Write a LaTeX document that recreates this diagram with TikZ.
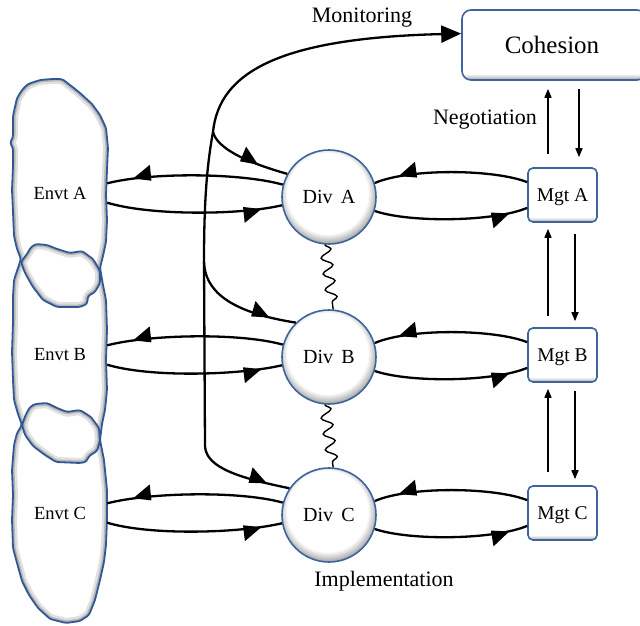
\documentclass[tikz,border=0pt]{standalone}
\usepackage{fontspec}
\setmainfont{Liberation Serif}
\usetikzlibrary{arrows.meta,decorations.markings,decorations.pathmorphing,calc}

\definecolor{rimblue}{RGB}{62,100,158}
\definecolor{cloudblue}{RGB}{48,88,150}

% white ball with a grey rim towards the lower right (the path fills the inner 50bp square)
\pgfdeclareradialshading{ballshade}{\pgfpoint{-1.5bp}{3.5bp}}{color(0bp)=(white); color(21.5bp)=(white); color(26bp)=(black!32); color(50bp)=(black!32)}
% white box darkening at its lower edge
\pgfdeclareverticalshading{boxshade}{100bp}{color(0bp)=(black!36); color(25bp)=(black!36); color(29.5bp)=(white); color(100bp)=(white)}

% outlines of the environment column and the two bumps over its joins
\def\columnpath{(22,90) -- (28,84) -- (40,80) -- (52,79) -- (62,79) -- (70,85) -- (80,93) -- (92,104) -- (100,115) -- (106,128) -- (108,148) -- (107,170) -- (106,195) -- (107,220) -- (106,242) -- (103,256) -- (100,268) -- (103,285) -- (106,300) -- (107,330) -- (106,360) -- (107,390) -- (105,410) -- (102,424) -- (100,440) -- (104,460) -- (107,490) -- (107,520) -- (106,545) -- (104,562) -- (100,580) -- (95,600) -- (89,615) -- (80,621) -- (66,623) -- (50,619) -- (38,608) -- (29,595) -- (22,581) -- (17,563) -- (13,548) -- (12,520) -- (13,495) -- (12,470) -- (14,445) -- (17,433) -- (22,425) -- (18,414) -- (14,400) -- (13,380) -- (12,352) -- (13,322) -- (13,296) -- (14,280) -- (18,268) -- (21,259) -- (17,249) -- (14,236) -- (13,212) -- (12,190) -- (13,166) -- (13,148) -- (10,143) -- (13,137) -- (13,116) -- (17,98) -- cycle}
\def\bumpone{(31,247) -- (36,244) -- (47,245) -- (57,249) -- (70,253) -- (82,251) -- (93,259) -- (100,271) -- (100,283) -- (95,292) -- (88,296) -- (87,304) -- (80,307) -- (57,307) -- (43,300) -- (33,287) -- (25,273) -- (21,262) -- (27,254) -- cycle}
\def\bumptwo{(30,407) -- (35,404) -- (47,403) -- (57,408) -- (67,412) -- (80,410) -- (91,417) -- (99,428) -- (100,441) -- (97,451) -- (89,456) -- (86,462) -- (80,463) -- (56,462) -- (45,455) -- (33,446) -- (25,435) -- (22,425) -- (26,414) -- cycle}

\newcommand{\cloudpart}[1]{%
  \fill[white, rounded corners=2.5pt] #1;
  \begin{scope}
    \clip[rounded corners=2.5pt] #1;
    \draw[black, opacity=.12, line width=10pt, rounded corners=2.5pt] #1;
    \draw[black, opacity=.18, line width=5pt, rounded corners=2.5pt] #1;
  \end{scope}
  \draw[cloudblue, line width=1.8pt, rounded corners=2.5pt] #1;
}

\begin{document}
\begin{tikzpicture}[x=1pt,y=-1pt,
  divnode/.style={circle, draw=rimblue, line width=1.6pt, shade, shading=ballshade,
    minimum size=94pt, inner sep=0pt, font=\fontsize{20}{22}\selectfont},
  mgtnode/.style={rectangle, rounded corners=5pt, draw=rimblue, line width=1.6pt,
    shade, shading=boxshade, minimum width=69pt, minimum height=54pt, inner sep=0pt,
    text depth=0pt, font=\fontsize{19.5}{22}\selectfont},
  cohnode/.style={rectangle, rounded corners=9pt, draw=rimblue, line width=1.6pt,
    shade, shading=boxshade, minimum width=184pt, minimum height=70pt, inner sep=0pt,
    font=\fontsize{25}{28}\selectfont},
  envnode/.style={minimum width=94pt, minimum height=19pt, inner sep=0pt,
    font=\fontsize{18.5}{20}\selectfont},
  caption/.style={inner sep=0pt, font=\fontsize{22}{24}\selectfont},
  flow/.style={line width=2.3pt, black},
  linkarrow/.style={line width=1.5pt, -{Triangle[length=9pt,width=7pt]}},
  midarrow/.style={postaction={decorate}, decoration={markings,
    mark=at position #1 with {\fill (9pt,0pt) -- (-9pt,4pt) -- (-9pt,-12pt) -- cycle;}}},
  midarrowL/.style={postaction={decorate}, decoration={markings,
    mark=at position #1 with {\fill (9pt,0pt) -- (-9pt,-4pt) -- (-9pt,12pt) -- cycle;}}},
  wavy/.style={line width=1.4pt, decorate, decoration={snake, segment length=16pt, amplitude=5.5pt}},
]
\useasboundingbox (0,0) rectangle (640,626);

% environment column
\cloudpart{\columnpath}
\cloudpart{\bumpone}
\cloudpart{\bumptwo}

% nodes
\node[envnode] (envA) at (60,193) {Envt A};
\node[envnode] (envB) at (60,355) {Envt B};
\node[envnode] (envC) at (60,513) {Envt C};

\node[divnode] (divA) at (329,197) {Div\,\ A};
\node[divnode] (divB) at (329,357) {Div\,\ B};
\node[divnode] (divC) at (329,515) {Div\,\ C};

\node[mgtnode] (mgtA) at (562.5,195) {Mgt A};
\node[mgtnode] (mgtB) at (562.5,355) {Mgt B};
\node[mgtnode] (mgtC) at (562.5,513) {Mgt C};

\node[cohnode] (coh) at (554,45) {Cohesion\hspace*{4pt}};

\node[caption] (mon) at (362,18) {Monitoring};
\node[caption] (neg) at (485,120) {Negotiation};
\node[caption] (imp) at (384,581) {Implementation};

% exchange loops: environment -- division -- management
\foreach \r in {A,B,C} {
  \draw[flow, midarrow=0.8] (div\r.165) .. controls +(-43,-12) and +(43,-11) .. (env\r.north east);
  \draw[flow, midarrow=0.83] (env\r.south east) .. controls +(43,13) and +(-43,10) .. (div\r.190);
  \draw[flow, midarrow=0.78] (mgt\r.160) .. controls +(-33,-13) and +(35,-15) .. (div\r.17);
  \draw[flow, midarrow=0.82] (div\r.-17) .. controls +(35,12) and +(-33,14) .. (mgt\r.200);
}

% monitoring / implementation spine
\coordinate (spC) at (205,446);
\coordinate (spB) at (204,262);
\coordinate (spA) at (213,132);
\draw[flow, -{Triangle[length=20pt,width=17pt]}] (spC) -- (spB)
  .. controls (204,200) and (207,165) .. (spA)
  .. controls (219,72) and (280,38) .. (coh.173);
\draw[flow, midarrowL=0.55] (spA) .. controls (217,148) and (245,162) .. (divA.151);
\draw[flow, midarrowL=0.7] (spB) .. controls (205,290) and (228,312) .. (divB.134);
\draw[flow, midarrowL=0.68] (spC) .. controls (206,468) and (240,478) .. (divC.146);

% links between divisions
\draw[wavy] (divA.-95) -- (divB.85);
\draw[wavy] (divB.-95) -- (divC.85);

% negotiation arrows
\draw[linkarrow, shorten <=13pt, shorten >=8pt]
  ([xshift=-14.5pt]mgtA.north) -- ([xshift=-14.5pt]mgtA.north |- coh.south);
\draw[linkarrow, shorten <=8pt, shorten >=10pt]
  ([xshift=16.5pt]mgtA.north |- coh.south) -- ([xshift=16.5pt]mgtA.north);
\draw[linkarrow, shorten <=11pt, shorten >=6pt]
  ([xshift=-14.5pt]mgtB.north) -- ([xshift=-14.5pt]mgtA.south);
\draw[linkarrow, shorten <=11pt, shorten >=6pt]
  ([xshift=12.5pt]mgtA.south) -- ([xshift=12.5pt]mgtB.north);
\draw[linkarrow, shorten <=13pt, shorten >=6pt]
  ([xshift=-14.5pt]mgtC.north) -- ([xshift=-14.5pt]mgtB.south);
\draw[linkarrow, shorten <=8pt, shorten >=6pt]
  ([xshift=12.5pt]mgtB.south) -- ([xshift=12.5pt]mgtC.north);
\end{tikzpicture}
\end{document}
